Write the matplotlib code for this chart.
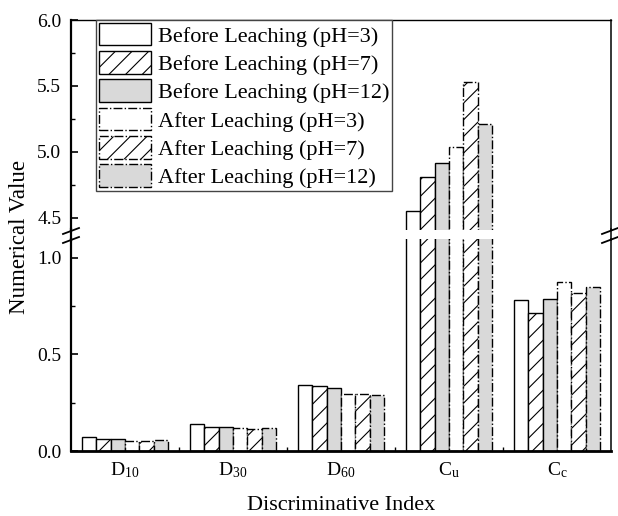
import matplotlib
matplotlib.use('Agg')
import numpy as np
import matplotlib.pyplot as plt
from matplotlib.lines import Line2D

plt.rcParams['font.family'] = ['Liberation Serif', 'DejaVu Serif']
plt.rcParams['mathtext.fontset'] = 'custom'
plt.rcParams['mathtext.rm'] = 'Liberation Serif'
plt.rcParams['mathtext.default'] = 'rm'
plt.rcParams['hatch.linewidth'] = 0.8

categories = ['D$_{10}$', 'D$_{30}$', 'D$_{60}$', 'C$_{u}$', 'C$_{c}$']
labels = ['Before Leaching (pH=3)', 'Before Leaching (pH=7)', 'Before Leaching (pH=12)',
          'After Leaching (pH=3)', 'After Leaching (pH=7)', 'After Leaching (pH=12)']
before_ph3 = [0.071, 0.138, 0.340, 4.555, 0.780]
before_ph7 = [0.064, 0.126, 0.335, 4.810, 0.715]
before_ph12 = [0.061, 0.126, 0.328, 4.920, 0.787]
after_ph3 = [0.052, 0.121, 0.295, 5.035, 0.876]
after_ph7 = [0.052, 0.115, 0.297, 5.530, 0.820]
after_ph12 = [0.055, 0.117, 0.292, 5.210, 0.850]
series = [before_ph3, before_ph7, before_ph12, after_ph3, after_ph7, after_ph12]

fills = ['white', 'white', '#d9d9d9', 'white', 'white', '#d9d9d9']
hatches = [None, '//', None, None, '//', None]
styles = ['-', '-', '-', '-.', '-.', '-.']

W, H = 618, 516
fig = plt.figure(figsize=(6.18, 5.16), dpi=100)
L, R = 71 / W, 611 / W
ax_top = fig.add_axes([L, 1 - 230 / H, R - L, (230 - 20) / H])
ax_bot = fig.add_axes([L, 1 - 451 / H, R - L, (451 - 239) / H])

x = np.arange(len(categories))
w = 0.134
for ax in (ax_top, ax_bot):
    for i, vals in enumerate(series):
        ax.bar(x + (i - 2.5) * w, vals, w, color=fills[i], edgecolor='black',
               hatch=hatches[i], linestyle=styles[i], linewidth=1.0,
               label=labels[i])
    ax.set_xlim(-0.5, 4.5)
    ax.spines['left'].set_linewidth(1.6)
    ax.spines['right'].set_linewidth(1.1)
    ax.spines['top'].set_linewidth(1.0)
    ax.spines['bottom'].set_linewidth(2.0)
    ax.tick_params(axis='y', which='major', direction='in', length=5, width=1.2,
                   labelsize=14, pad=7)
    ax.tick_params(axis='y', which='minor', direction='in', length=3, width=1.0)
    ax.tick_params(axis='y', right=False)

ax_top.set_ylim(4.409, 6.0)
ax_top.set_yticks([4.5, 5.0, 5.5, 6.0])
ax_top.set_yticks([4.75, 5.25, 5.75], minor=True)
ax_top.spines['bottom'].set_visible(False)
ax_top.tick_params(axis='x', which='both', bottom=False, labelbottom=False)

ax_bot.set_ylim(0, 1.098)
ax_bot.set_yticks([0.0, 0.5, 1.0])
ax_bot.set_yticks([0.25, 0.75], minor=True)
ax_bot.spines['top'].set_visible(False)
ax_bot.set_xticks([0.5, 1.5, 2.5, 3.5])
ax_bot.tick_params(axis='x', which='major', direction='in', length=3, width=1.0, labelbottom=False)
ax_bot.set_xticks(x, categories, minor=True)
ax_bot.tick_params(axis='x', which='minor', length=0, pad=7, labelsize=14)
ax_bot.yaxis.set_major_formatter(matplotlib.ticker.FormatStrFormatter('%.1f'))
ax_top.yaxis.set_major_formatter(matplotlib.ticker.FormatStrFormatter('%.1f'))

# spines across the gap and break marks
for xs in (L, R):
    fig.add_artist(Line2D([xs, xs], [1 - 229 / H, 1 - 240 / H], color='black',
                          lw=1.6 if xs == L else 1.1))
for xc in (71, 610):
    for yc in (231, 240):
        fig.add_artist(Line2D([(xc - 8) / W, (xc + 8) / W],
                              [1 - (yc + 3) / H, 1 - (yc - 3) / H],
                              color='black', lw=1.3))

leg = ax_top.legend(loc='upper left', bbox_to_anchor=(96 / W, 1 - 20 / H),
                    bbox_transform=fig.transFigure, borderaxespad=0,
                    fontsize=16, handlelength=2.35, handleheight=1.2,
                    labelspacing=0.2, handletextpad=0.3, borderpad=0.12,
                    fancybox=False, framealpha=1)
leg.get_frame().set_edgecolor('#444444')
leg.get_frame().set_linewidth(1.0)

fig.text(20 / W, 1 - 237 / H, 'Numerical Value', rotation=90, ha='center', va='center', fontsize=16.5)
fig.text(341 / W, 1 - 505 / H, 'Discriminative Index', ha='center', va='center', fontsize=16)

fig.savefig('out.png', dpi=100)
